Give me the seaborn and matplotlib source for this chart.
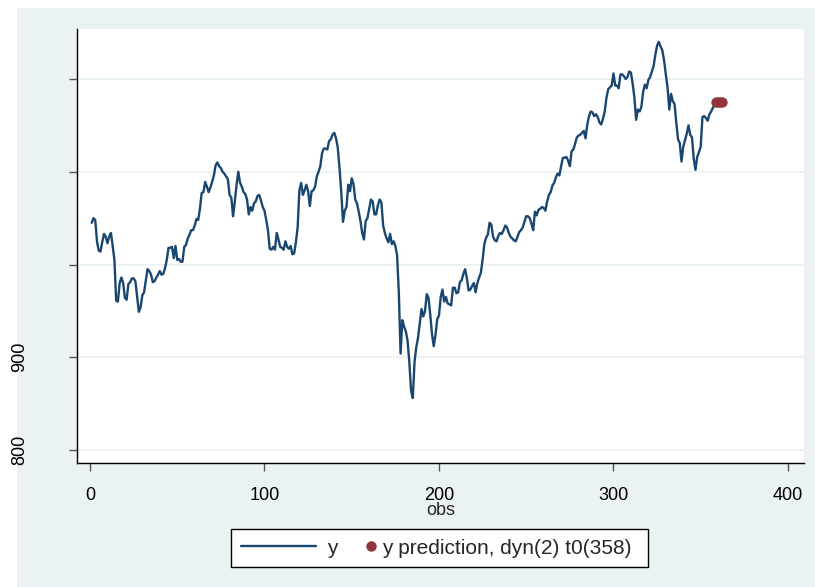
import matplotlib
matplotlib.use("Agg")
import matplotlib.pyplot as plt
from matplotlib.patches import Rectangle
from matplotlib.lines import Line2D
import pandas as pd
import seaborn as sns

# Observed series, obs = 1 .. 358
y_values = [
    1045, 1050, 1048, 1025, 1015, 1014, 1024, 1033, 1030, 1023,
    1030, 1034, 1020, 1005, 961, 960, 980, 986, 980, 964,
    962, 979, 981, 985, 985, 982, 965, 949, 954, 967,
    970, 983, 995, 993, 989, 981, 982, 986, 989, 993,
    989, 990, 996, 1005, 1018, 1018, 1019, 1007, 1020, 1005,
    1006, 1003, 1003, 1019, 1021, 1028, 1032, 1037, 1037, 1042,
    1049, 1048, 1060, 1077, 1078, 1089, 1084, 1078, 1083, 1089,
    1096, 1107, 1110, 1106, 1104, 1100, 1098, 1095, 1092, 1075,
    1072, 1052, 1068, 1086, 1100, 1088, 1084, 1078, 1076, 1070,
    1054, 1062, 1058, 1066, 1068, 1074, 1075, 1069, 1062, 1058,
    1048, 1037, 1017, 1016, 1019, 1016, 1034, 1027, 1019, 1018,
    1016, 1025, 1019, 1017, 1020, 1011, 1012, 1024, 1040, 1080,
    1088, 1075, 1080, 1086, 1079, 1063, 1079, 1080, 1084, 1095,
    1100, 1106, 1120, 1125, 1125, 1124, 1133, 1135, 1140, 1142,
    1136, 1126, 1104, 1078, 1046, 1058, 1062, 1086, 1079, 1093,
    1087, 1070, 1066, 1057, 1047, 1034, 1027, 1047, 1050, 1060,
    1070, 1068, 1054, 1054, 1064, 1070, 1067, 1042, 1034, 1028,
    1024, 1033, 1022, 1025, 1020, 1010, 969, 904, 940, 933,
    928, 918, 895, 864, 856, 895, 911, 921, 937, 952,
    944, 950, 968, 964, 946, 925, 912, 924, 941, 945,
    965, 973, 960, 965, 958, 957, 956, 975, 975, 969,
    970, 981, 983, 990, 995, 985, 972, 973, 977, 980,
    970, 980, 986, 991, 1005, 1022, 1029, 1032, 1045, 1043,
    1030, 1026, 1025, 1031, 1034, 1033, 1037, 1042, 1040, 1034,
    1030, 1028, 1026, 1025, 1030, 1035, 1037, 1040, 1046, 1052,
    1052, 1050, 1044, 1037, 1057, 1053, 1059, 1060, 1062, 1061,
    1058, 1068, 1075, 1078, 1085, 1088, 1094, 1098, 1096, 1106,
    1115, 1115, 1116, 1112, 1106, 1122, 1124, 1130, 1137, 1139,
    1140, 1142, 1144, 1136, 1151, 1160, 1165, 1164, 1160, 1162,
    1159, 1153, 1151, 1157, 1165, 1180, 1189, 1191, 1193, 1206,
    1193, 1193, 1190, 1205, 1205, 1203, 1200, 1202, 1208, 1207,
    1195, 1180, 1156, 1167, 1165, 1170, 1186, 1194, 1190, 1199,
    1202, 1208, 1214, 1226, 1236, 1240, 1235, 1231, 1220, 1205,
    1191, 1167, 1184, 1176, 1173, 1153, 1135, 1131, 1111, 1127,
    1134, 1141, 1150, 1140, 1137, 1114, 1102, 1116, 1121, 1127,
    1159, 1160, 1158, 1155, 1162, 1165, 1169, 1172,
]

# Dynamic prediction points
pred_obs = [359, 360, 361, 362]
pred_values = [1175, 1175, 1175, 1175]

x_ticks = [0, 100, 200, 300, 400]
y_ticks = [800, 900, 1000, 1100, 1200]
y_tick_labels = ["800", "900", "", "", ""]

legend_labels = ["y", "y prediction, dyn(2) t0(358)"]

BG = "#EAF2F3"
NAVY = "#1A476F"
MAROON = "#90353B"

sns.set_theme(style="white")
plt.rcParams["font.family"] = ["Liberation Sans", "DejaVu Sans"]

W, H = 815, 587
fig = plt.figure(figsize=(W / 100, H / 100), dpi=100, facecolor=BG)
fig.patches.append(Rectangle((0, 0), 17 / W, 1, transform=fig.transFigure,
                             facecolor="white", edgecolor="none", zorder=-10))
fig.patches.append(Rectangle((0, 1 - 8 / H), 1, 8 / H, transform=fig.transFigure,
                             facecolor="white", edgecolor="none", zorder=-10))

ax = fig.add_axes([77 / W, 1 - 463 / H, (804 - 77) / W, (463 - 29) / H])
ax.set_facecolor("white")

df = pd.DataFrame({"obs": range(1, len(y_values) + 1), "y": y_values})
pred = pd.DataFrame({"obs": pred_obs, "y": pred_values})

sns.lineplot(data=df, x="obs", y="y", color=NAVY, linewidth=1.7, ax=ax,
             legend=False, zorder=3)
sns.scatterplot(data=pred, x="obs", y="y", color=MAROON, s=55, linewidth=0,
                ax=ax, legend=False, zorder=4)

ax.set_xlim(-7.45, 409.2)
ax.set_ylim(786.0, 1253.9)
ax.set_xticks(x_ticks)
ax.set_xticklabels([str(t) for t in x_ticks])
ax.set_yticks(y_ticks)
ax.set_yticklabels(y_tick_labels, rotation=90, va="center")

ax.yaxis.grid(True, color=BG, linewidth=1.3)
ax.xaxis.grid(False)
ax.set_axisbelow(True)

for side in ("top", "right"):
    ax.spines[side].set_visible(False)
for side in ("left", "bottom"):
    ax.spines[side].set_color("black")
    ax.spines[side].set_linewidth(1.0)

ax.tick_params(axis="both", direction="out", length=6, width=1,
               color="#555555", labelsize=13, labelcolor="black")
ax.tick_params(axis="y", pad=29, left=True)
ax.tick_params(axis="x", pad=11, bottom=True)

ax.set_xlabel("obs", fontsize=13, labelpad=-1)
ax.set_ylabel("")

# Legend: a framed box holding the line key and the marker key
box_x0, box_x1 = 231 / W, 648 / W
box_y0, box_y1 = 1 - 567 / H, 1 - 529 / H
fig.patches.append(Rectangle((box_x0, box_y0), box_x1 - box_x0, box_y1 - box_y0,
                             transform=fig.transFigure, facecolor="white",
                             edgecolor="black", linewidth=1.0, zorder=5))
yc = 1 - 548 / H
LEG_FS = 15
leg_line = fig.legend([Line2D([], [], color=NAVY, linewidth=1.7)],
                      [legend_labels[0]], loc="center left",
                      bbox_to_anchor=(241 / W, yc), frameon=False,
                      fontsize=LEG_FS, handlelength=3.6, handletextpad=0.55,
                      borderpad=0, borderaxespad=0)
leg_line.set_zorder(6)
leg_pred = fig.legend([Line2D([], [], color=MAROON, marker="o", linestyle="none",
                              markersize=7.5, markeredgewidth=0)],
                      [legend_labels[1]], loc="center left",
                      bbox_to_anchor=(364 / W, yc), frameon=False,
                      fontsize=LEG_FS, handlelength=0.7, handletextpad=0.18,
                      borderpad=0, borderaxespad=0)
leg_pred.set_zorder(6)

fig.savefig("out.png", dpi=100, facecolor=BG)
